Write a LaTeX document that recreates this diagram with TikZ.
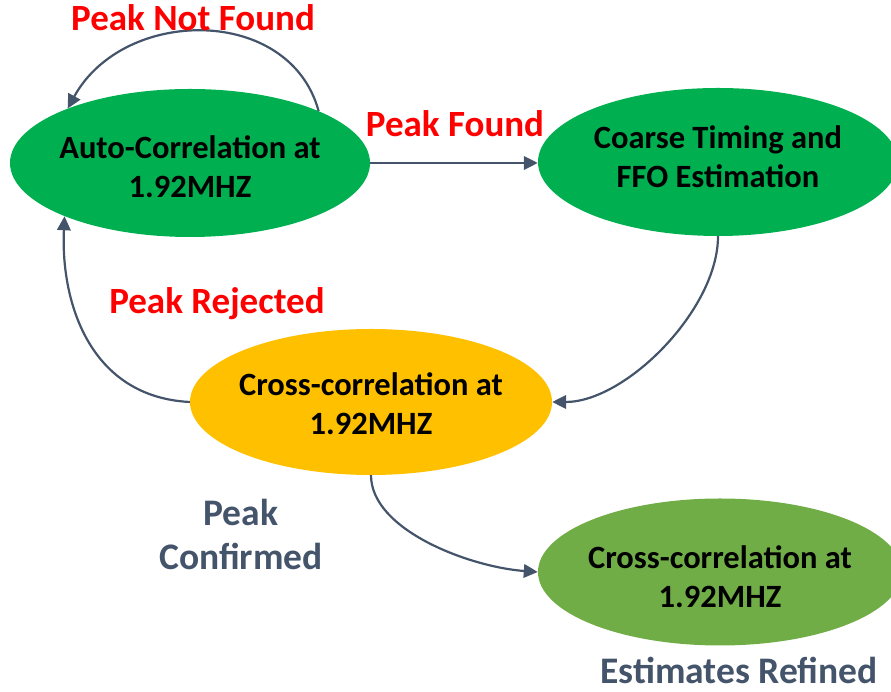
\documentclass[tikz,border=0pt]{standalone}
\usepackage{fontspec}
\setmainfont{Carlito}
\usetikzlibrary{arrows.meta,shapes.geometric}

\definecolor{stategreen}{HTML}{00B050}
\definecolor{stateyellow}{HTML}{FFC000}
\definecolor{stateolive}{HTML}{70AD47}
\definecolor{slate}{HTML}{44546A}
\definecolor{alertred}{HTML}{FF0000}

\tikzset{
  state/.style={ellipse, inner ysep=0pt, inner xsep=-6pt, minimum width=360pt, minimum height=148pt,
    align=center, font=\fontsize{32.5}{39}\selectfont\bfseries, text=black, text depth=0pt},
  flow/.style={draw=slate, line width=2.2pt, -{Triangle[length=14pt,width=13.5pt]}},
  redlabel/.style={font=\fontsize{37}{44}\selectfont\bfseries, text=alertred, anchor=base},
  greylabel/.style={font=\fontsize{37.5}{44}\selectfont\bfseries, text=slate, align=center}
}

\begin{document}
\begin{tikzpicture}[x=1pt, y=1pt]
\useasboundingbox (0,0) rectangle (891,692);

% states
\node[state, fill=stategreen, text height=69pt] (auto) at (190,529) {Auto-Correlation at\\1.92MHZ};
\node[state, fill=stategreen, text height=51pt] (coarse) at (718,530) {Coarse Timing and\\FFO Estimation};
\node[state, fill=stateyellow, text height=66pt, minimum width=362pt, minimum height=146pt] (cross) at (371,290) {Cross-correlation at\\1.92MHZ};
\node[state, fill=stateolive, text height=72pt, minimum width=364pt, minimum height=147pt] (fine) at (720,120) {Cross-correlation at\\1.92MHZ};

% transitions
\draw[flow] (auto.22) .. controls +(-29,106) and +(56,102) .. (auto.156);
\draw[flow] (auto.east) -- (auto.east -| coarse.west);
\draw[flow] (coarse.south) to[out=-90, in=0, looseness=0.8] (cross.east);
\draw[flow] (cross.west) .. controls +(-100,5) and +(-4,-86) .. (auto.203);
\draw[flow] (cross.south) .. controls +(0,-55) and +(-68,5) .. (fine.west);

% transition labels
\node[redlabel] (nf) at (193,661) {Peak Not Found};
\node[redlabel] (pf) at (455,555) {Peak Found};
\node[redlabel] (pr) at (217,378) {Peak Rejected};
\node[greylabel] (pc) at (241,158) {Peak\\Confirmed};
\node[greylabel, anchor=base] (er) at (739,8) {Estimates Refined};
\end{tikzpicture}
\end{document}
